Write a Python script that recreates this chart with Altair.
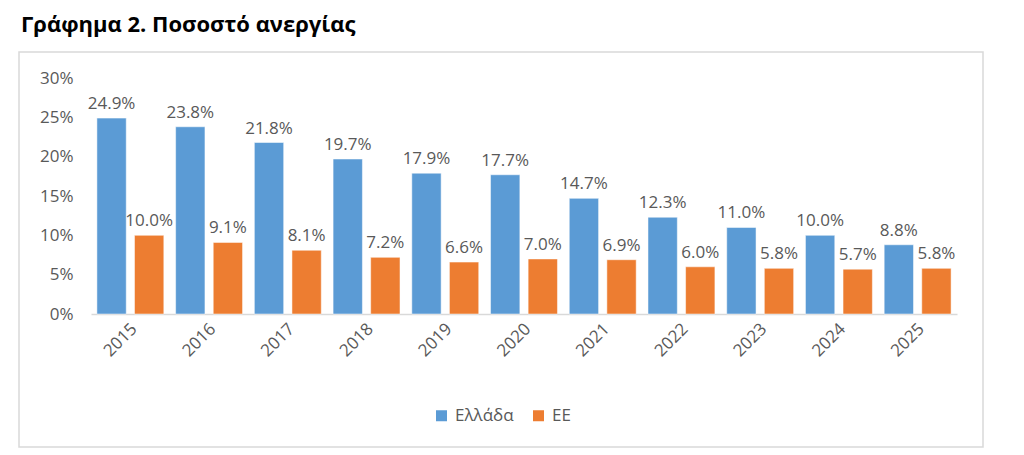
import altair as alt
import pandas as pd

years = ["2015", "2016", "2017", "2018", "2019", "2020", "2021", "2022", "2023", "2024", "2025"]
greece = [24.9, 23.8, 21.8, 19.7, 17.9, 17.7, 14.7, 12.3, 11.0, 10.0, 8.8]
eu = [10.0, 9.1, 8.1, 7.2, 6.6, 7.0, 6.9, 6.0, 5.8, 5.7, 5.8]
series = ["Ελλάδα", "ΕΕ"]
colors = ["#5B9BD5", "#ED7D31"]

rows = []
for i, y in enumerate(years):
    rows.append({"year": y, "series": series[0], "value": greece[i] / 100, "label": f"{greece[i]:.1f}%"})
    rows.append({"year": y, "series": series[1], "value": eu[i] / 100, "label": f"{eu[i]:.1f}%"})
df = pd.DataFrame(rows)

FONT = "Open Sans"
GREY = "#595959"
FS = 17

x = alt.X("year:N", sort=years, title=None,
          scale=alt.Scale(paddingInner=0.15, paddingOuter=0.075),
          axis=alt.Axis(labelAngle=-45, labelAlign="right", labelBaseline="middle",
                        labelFontSize=FS, labelColor=GREY, labelFont=FONT,
                        ticks=False, domainColor="#D9D9D9", domainWidth=1.5,
                        labelPadding=12, labelOffset=4))
xoff = alt.XOffset("series:N", sort=series, scale=alt.Scale(paddingInner=0.22, paddingOuter=0))
y = alt.Y("value:Q", title=None,
          scale=alt.Scale(domain=[0, 0.3], nice=False),
          axis=alt.Axis(format=".0%", values=[0, 0.05, 0.1, 0.15, 0.2, 0.25, 0.3],
                        labelFontSize=FS, labelColor=GREY, labelFont=FONT,
                        ticks=False, domain=False, grid=False, labelPadding=18))
color = alt.Color("series:N", sort=series,
                  scale=alt.Scale(domain=series, range=colors),
                  legend=alt.Legend(title=None, orient="none", direction="horizontal",
                                    legendX=342, legendY=329, symbolType="square",
                                    symbolSize=121, symbolStrokeWidth=0,
                                    labelFontSize=FS, labelColor=GREY, labelFont=FONT,
                                    columnPadding=16, labelOffset=5, padding=0))

base = alt.Chart(df)

bars = base.mark_bar(stroke="white", strokeWidth=0.5).encode(x=x, xOffset=xoff, y=y, color=color)
labels = base.mark_text(baseline="bottom", dy=-5, fontSize=FS, font=FONT, color=GREY).encode(
    x=x, xOffset=xoff, y=y, text="label:N")

frame = alt.Chart(pd.DataFrame({"k": [0]})).mark_rect(
    fill=None, stroke="#D9D9D9", strokeWidth=1.5, clip=False).encode(
    x=alt.value(-72), x2=alt.value(892), y=alt.value(-26), y2=alt.value(369))

chart = alt.layer(frame, bars, labels).properties(
    width=866, height=236,
    title=alt.TitleParams("Γράφημα 2. Ποσοστό ανεργίας", anchor="start", frame="group",
                          fontSize=22, font=FONT, fontWeight="bold", color="black",
                          dx=-70, offset=14, limit=600),
    padding={"left": 10, "top": 6, "right": 5, "bottom": 5},
).configure_view(stroke=None)

chart.save("out.html", embed_options={"renderer": "svg", "actions": False})
